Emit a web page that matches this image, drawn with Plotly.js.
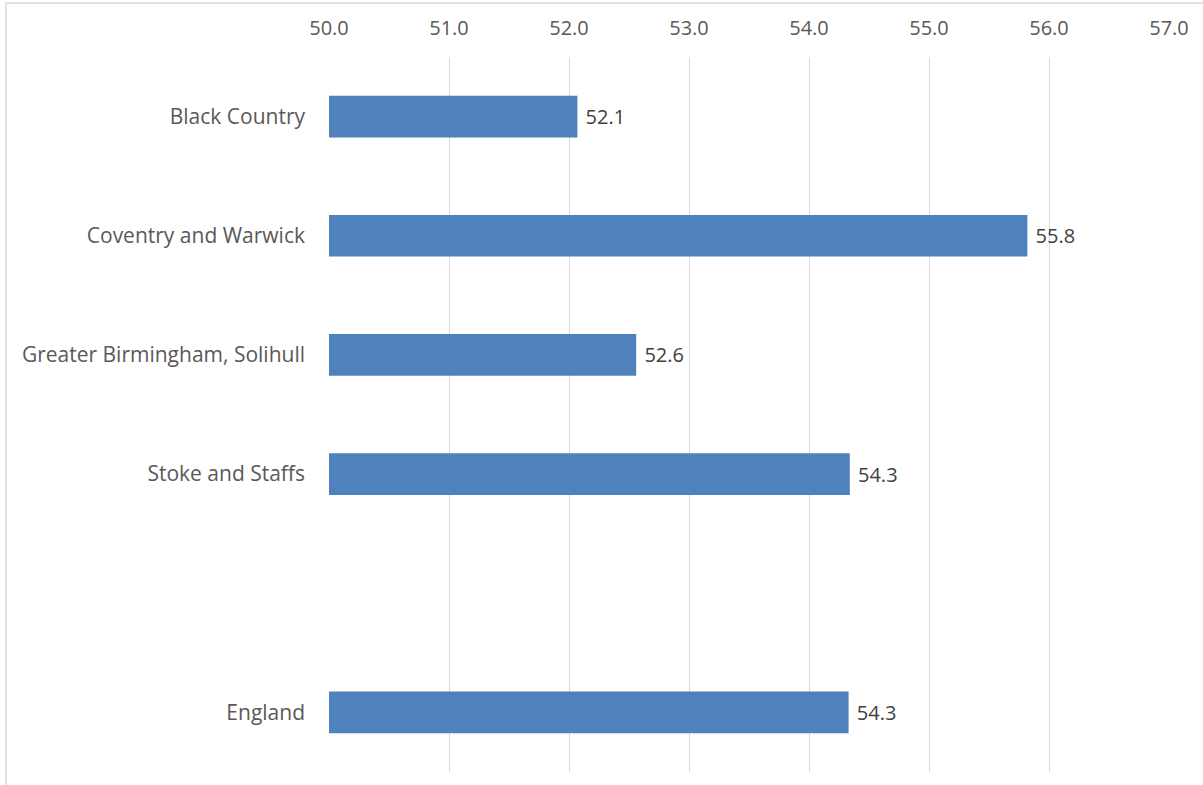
<!DOCTYPE html>
<html>
<head>
<meta charset="utf-8">
<script src="https://cdn.plot.ly/plotly-3.0.1.min.js"></script>
<style>
html,body{margin:0;padding:0;background:#fff;}
#chart{width:1203px;height:785px;}
</style>
</head>
<body>
<div id="chart"></div>
<script>
var categories = ["Black Country", "Coventry and Warwick", "Greater Birmingham, Solihull", "Stoke and Staffs", " ", "England"];
var values = [52.07, 55.82, 52.56, 54.34, null, 54.33];
var axisStart = 50;
var tickValues = [50, 51, 52, 53, 54, 55, 56, 57];
var tickLabels = ["50.0", "51.0", "52.0", "53.0", "54.0", "55.0", "56.0", "57.0"];

var trace = {
  type: "bar",
  orientation: "h",
  y: categories,
  x: values.map(function(v){ return v === null ? null : v - axisStart; }),
  base: axisStart,
  marker: {color: "#4F81BD"},
  text: values.map(function(v){ return v === null ? "" : " " + v.toFixed(1); }),
  textposition: "outside",
  textfont: {family: "Open Sans, sans-serif", size: 20, color: "#404040"},
  cliponaxis: false,
  hoverinfo: "none"
};

var layout = {
  width: 1203,
  height: 785,
  margin: {l: 329, r: 34, t: 57, b: 13},
  paper_bgcolor: "#ffffff",
  plot_bgcolor: "#ffffff",
  showlegend: false,
  bargap: 0.65,
  font: {family: "Open Sans, sans-serif", color: "#595959"},
  xaxis: {
    side: "top",
    range: [50, 57],
    tickvals: tickValues,
    ticktext: tickLabels,
    showgrid: true,
    gridcolor: "#d9d9d9",
    gridwidth: 1,
    zeroline: false,
    showline: false,
    ticks: "",
    ticklabelstandoff: 17,
    tickfont: {size: 20, color: "#595959"}
  },
  yaxis: {
    type: "category",
    categoryorder: "array",
    categoryarray: categories,
    autorange: "reversed",
    showgrid: false,
    zeroline: false,
    showline: false,
    ticks: "",
    ticklabelstandoff: 23,
    tickfont: {size: 21, color: "#595959"}
  },
  shapes: [
    {type: "rect", xref: "paper", yref: "paper",
     x0: -0.3845, x1: 1.05, y0: -0.03, y1: 1.0755,
     line: {color: "#d9d9d9", width: 1.5}, fillcolor: "rgba(0,0,0,0)"}
  ]
};

Plotly.newPlot("chart", [trace], layout, {displayModeBar: false, staticPlot: true});
</script>
</body>
</html>
